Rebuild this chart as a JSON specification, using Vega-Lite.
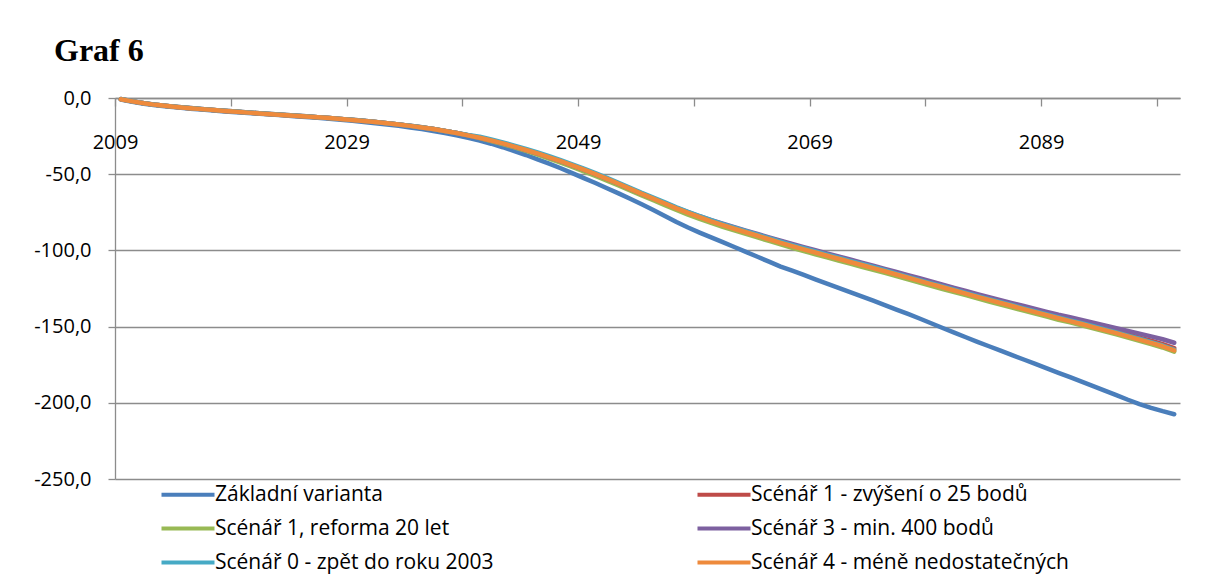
{
  "$schema": "https://vega.github.io/schema/vega-lite/v6.json",
  "autosize": {"type": "none"},
  "padding": {"left": 115, "top": 98, "right": 26, "bottom": 97},
  "width": 1065,
  "height": 381,
  "background": "white",
  "title": {
    "text": "Graf 6",
    "anchor": "start",
    "frame": "group",
    "dx": -61,
    "offset": 20,
    "font": "Liberation Serif",
    "fontSize": 32,
    "fontWeight": "bold",
    "color": "black"
  },
  "datasets": {
    "serie": [
      {"k": "z", "nazev": "Základní varianta"},
      {"k": "s1", "nazev": "Scénář 1 - zvýšení o 25 bodů"},
      {"k": "r", "nazev": "Scénář 1, reforma 20 let"},
      {"k": "s3", "nazev": "Scénář 3 - min. 400 bodů"},
      {"k": "s0", "nazev": "Scénář 0 - zpět do roku 2003"},
      {"k": "s4", "nazev": "Scénář 4 - méně nedostatečných"}
    ],
    "hodnoty": [
      {"rok": 2009, "z": -1.0, "s1": -0.7, "r": -0.8, "s3": -0.8, "s0": -0.7, "s4": -0.8},
      {"rok": 2010, "z": -2.5, "s1": -2.1, "r": -2.2, "s3": -2.2, "s0": -2.1, "s4": -2.2},
      {"rok": 2011, "z": -3.8, "s1": -3.4, "r": -3.5, "s3": -3.5, "s0": -3.4, "s4": -3.5},
      {"rok": 2012, "z": -4.8, "s1": -4.4, "r": -4.5, "s3": -4.5, "s0": -4.4, "s4": -4.5},
      {"rok": 2013, "z": -5.6, "s1": -5.2, "r": -5.3, "s3": -5.3, "s0": -5.2, "s4": -5.3},
      {"rok": 2014, "z": -6.3, "s1": -5.9, "r": -6.0, "s3": -6.0, "s0": -5.9, "s4": -6.0},
      {"rok": 2015, "z": -7.0, "s1": -6.6, "r": -6.7, "s3": -6.7, "s0": -6.6, "s4": -6.7},
      {"rok": 2016, "z": -7.6, "s1": -7.2, "r": -7.3, "s3": -7.3, "s0": -7.2, "s4": -7.3},
      {"rok": 2017, "z": -8.2, "s1": -7.8, "r": -7.9, "s3": -7.9, "s0": -7.8, "s4": -7.9},
      {"rok": 2018, "z": -8.8, "s1": -8.4, "r": -8.5, "s3": -8.5, "s0": -8.4, "s4": -8.5},
      {"rok": 2019, "z": -9.3, "s1": -8.9, "r": -9.0, "s3": -9.0, "s0": -8.9, "s4": -9.0},
      {"rok": 2020, "z": -9.9, "s1": -9.5, "r": -9.6, "s3": -9.6, "s0": -9.5, "s4": -9.6},
      {"rok": 2021, "z": -10.4, "s1": -10.0, "r": -10.1, "s3": -10.1, "s0": -10.0, "s4": -10.1},
      {"rok": 2022, "z": -10.9, "s1": -10.5, "r": -10.6, "s3": -10.6, "s0": -10.5, "s4": -10.6},
      {"rok": 2023, "z": -11.4, "s1": -11.0, "r": -11.1, "s3": -11.1, "s0": -11.0, "s4": -11.1},
      {"rok": 2024, "z": -11.9, "s1": -11.5, "r": -11.6, "s3": -11.6, "s0": -11.5, "s4": -11.6},
      {"rok": 2025, "z": -12.4, "s1": -12.0, "r": -12.1, "s3": -12.1, "s0": -12.0, "s4": -12.1},
      {"rok": 2026, "z": -13.0, "s1": -12.6, "r": -12.7, "s3": -12.7, "s0": -12.6, "s4": -12.7},
      {"rok": 2027, "z": -13.6, "s1": -13.1, "r": -13.2, "s3": -13.2, "s0": -13.1, "s4": -13.2},
      {"rok": 2028, "z": -14.3, "s1": -13.7, "r": -13.8, "s3": -13.8, "s0": -13.7, "s4": -13.8},
      {"rok": 2029, "z": -15.0, "s1": -14.3, "r": -14.4, "s3": -14.4, "s0": -14.3, "s4": -14.4},
      {"rok": 2030, "z": -15.7, "s1": -15.0, "r": -15.1, "s3": -15.1, "s0": -15.0, "s4": -15.1},
      {"rok": 2031, "z": -16.5, "s1": -15.7, "r": -15.8, "s3": -15.8, "s0": -15.7, "s4": -15.8},
      {"rok": 2032, "z": -17.4, "s1": -16.5, "r": -16.6, "s3": -16.6, "s0": -16.5, "s4": -16.6},
      {"rok": 2033, "z": -18.3, "s1": -17.3, "r": -17.4, "s3": -17.4, "s0": -17.3, "s4": -17.4},
      {"rok": 2034, "z": -19.3, "s1": -18.2, "r": -18.3, "s3": -18.3, "s0": -18.2, "s4": -18.3},
      {"rok": 2035, "z": -20.4, "s1": -19.2, "r": -19.3, "s3": -19.3, "s0": -19.2, "s4": -19.3},
      {"rok": 2036, "z": -21.6, "s1": -20.3, "r": -20.4, "s3": -20.4, "s0": -20.3, "s4": -20.4},
      {"rok": 2037, "z": -23.0, "s1": -21.6, "r": -21.7, "s3": -21.7, "s0": -21.6, "s4": -21.7},
      {"rok": 2038, "z": -24.5, "s1": -22.9, "r": -23.0, "s3": -23.0, "s0": -22.9, "s4": -23.0},
      {"rok": 2039, "z": -26.2, "s1": -24.4, "r": -24.5, "s3": -24.5, "s0": -24.3, "s4": -24.5},
      {"rok": 2040, "z": -28.0, "s1": -26.0, "r": -26.3, "s3": -26.1, "s0": -25.4, "s4": -26.1},
      {"rok": 2041, "z": -30.0, "s1": -27.8, "r": -28.2, "s3": -27.9, "s0": -27.2, "s4": -27.9},
      {"rok": 2042, "z": -32.3, "s1": -29.7, "r": -30.2, "s3": -29.8, "s0": -29.1, "s4": -29.8},
      {"rok": 2043, "z": -34.8, "s1": -31.8, "r": -32.4, "s3": -31.9, "s0": -31.2, "s4": -31.9},
      {"rok": 2044, "z": -37.4, "s1": -34.0, "r": -34.7, "s3": -34.1, "s0": -33.4, "s4": -34.1},
      {"rok": 2045, "z": -40.2, "s1": -36.3, "r": -37.1, "s3": -36.4, "s0": -35.7, "s4": -36.4},
      {"rok": 2046, "z": -43.1, "s1": -38.8, "r": -39.7, "s3": -38.9, "s0": -38.2, "s4": -38.9},
      {"rok": 2047, "z": -46.1, "s1": -41.4, "r": -42.4, "s3": -41.5, "s0": -40.8, "s4": -41.5},
      {"rok": 2048, "z": -49.3, "s1": -44.1, "r": -45.2, "s3": -44.2, "s0": -43.5, "s4": -44.2},
      {"rok": 2049, "z": -52.6, "s1": -46.9, "r": -48.1, "s3": -47.0, "s0": -46.3, "s4": -47.0},
      {"rok": 2050, "z": -55.8, "s1": -49.9, "r": -51.1, "s3": -50.0, "s0": -49.3, "s4": -50.0},
      {"rok": 2051, "z": -59.2, "s1": -53.0, "r": -54.2, "s3": -53.1, "s0": -52.4, "s4": -53.1},
      {"rok": 2052, "z": -62.6, "s1": -56.2, "r": -57.4, "s3": -56.3, "s0": -55.6, "s4": -56.3},
      {"rok": 2053, "z": -66.1, "s1": -59.5, "r": -60.7, "s3": -59.6, "s0": -58.9, "s4": -59.6},
      {"rok": 2054, "z": -69.7, "s1": -62.8, "r": -64.0, "s3": -62.9, "s0": -62.2, "s4": -62.9},
      {"rok": 2055, "z": -73.5, "s1": -65.9, "r": -67.1, "s3": -65.8, "s0": -65.3, "s4": -66.0},
      {"rok": 2056, "z": -77.4, "s1": -69.1, "r": -70.3, "s3": -68.9, "s0": -68.5, "s4": -69.2},
      {"rok": 2057, "z": -81.4, "s1": -72.3, "r": -73.5, "s3": -72.0, "s0": -71.7, "s4": -72.4},
      {"rok": 2058, "z": -85.0, "s1": -75.3, "r": -76.5, "s3": -74.9, "s0": -74.7, "s4": -75.4},
      {"rok": 2059, "z": -88.3, "s1": -78.1, "r": -79.3, "s3": -77.6, "s0": -77.5, "s4": -78.2},
      {"rok": 2060, "z": -91.5, "s1": -80.8, "r": -82.0, "s3": -80.1, "s0": -80.2, "s4": -80.9},
      {"rok": 2061, "z": -94.6, "s1": -83.0, "r": -84.5, "s3": -82.5, "s0": -82.7, "s4": -83.4},
      {"rok": 2062, "z": -97.8, "s1": -85.4, "r": -86.9, "s3": -84.8, "s0": -85.1, "s4": -85.8},
      {"rok": 2063, "z": -101.0, "s1": -87.7, "r": -89.2, "s3": -87.0, "s0": -87.4, "s4": -88.1},
      {"rok": 2064, "z": -104.2, "s1": -90.0, "r": -91.5, "s3": -89.2, "s0": -89.7, "s4": -90.4},
      {"rok": 2065, "z": -107.4, "s1": -92.3, "r": -93.8, "s3": -91.4, "s0": -92.0, "s4": -92.7},
      {"rok": 2066, "z": -110.6, "s1": -94.6, "r": -96.1, "s3": -93.6, "s0": -94.3, "s4": -95.0},
      {"rok": 2067, "z": -113.3, "s1": -96.8, "r": -98.3, "s3": -95.8, "s0": -96.5, "s4": -97.2},
      {"rok": 2068, "z": -116.1, "s1": -98.9, "r": -100.4, "s3": -97.9, "s0": -98.6, "s4": -99.3},
      {"rok": 2069, "z": -119.0, "s1": -101.0, "r": -102.5, "s3": -99.9, "s0": -100.7, "s4": -101.4},
      {"rok": 2070, "z": -121.8, "s1": -103.1, "r": -104.6, "s3": -102.0, "s0": -102.8, "s4": -103.5},
      {"rok": 2071, "z": -124.6, "s1": -105.1, "r": -106.6, "s3": -104.0, "s0": -104.8, "s4": -105.5},
      {"rok": 2072, "z": -127.4, "s1": -107.2, "r": -108.7, "s3": -106.0, "s0": -106.9, "s4": -107.6},
      {"rok": 2073, "z": -130.2, "s1": -109.2, "r": -110.7, "s3": -108.0, "s0": -108.9, "s4": -109.6},
      {"rok": 2074, "z": -133.0, "s1": -111.2, "r": -112.7, "s3": -110.0, "s0": -110.9, "s4": -111.6},
      {"rok": 2075, "z": -135.9, "s1": -113.3, "r": -114.8, "s3": -112.1, "s0": -113.0, "s4": -113.7},
      {"rok": 2076, "z": -138.8, "s1": -115.4, "r": -116.9, "s3": -114.2, "s0": -115.3, "s4": -115.8},
      {"rok": 2077, "z": -141.7, "s1": -117.5, "r": -119.0, "s3": -116.3, "s0": -117.4, "s4": -117.9},
      {"rok": 2078, "z": -144.7, "s1": -119.6, "r": -121.1, "s3": -118.3, "s0": -119.5, "s4": -120.0},
      {"rok": 2079, "z": -147.8, "s1": -121.7, "r": -123.2, "s3": -120.4, "s0": -121.6, "s4": -122.1},
      {"rok": 2080, "z": -150.9, "s1": -123.8, "r": -125.3, "s3": -122.5, "s0": -123.7, "s4": -124.2},
      {"rok": 2081, "z": -154.0, "s1": -125.7, "r": -127.3, "s3": -124.6, "s0": -125.8, "s4": -126.3},
      {"rok": 2082, "z": -157.0, "s1": -127.8, "r": -129.4, "s3": -126.6, "s0": -127.9, "s4": -128.4},
      {"rok": 2083, "z": -160.0, "s1": -129.9, "r": -131.5, "s3": -128.7, "s0": -130.0, "s4": -130.5},
      {"rok": 2084, "z": -162.9, "s1": -131.9, "r": -133.5, "s3": -130.7, "s0": -132.0, "s4": -132.5},
      {"rok": 2085, "z": -165.8, "s1": -133.9, "r": -135.5, "s3": -132.7, "s0": -134.0, "s4": -134.5},
      {"rok": 2086, "z": -168.7, "s1": -135.9, "r": -137.5, "s3": -134.6, "s0": -136.0, "s4": -136.5},
      {"rok": 2087, "z": -171.6, "s1": -137.9, "r": -139.5, "s3": -136.5, "s0": -138.0, "s4": -138.5},
      {"rok": 2088, "z": -174.5, "s1": -139.9, "r": -141.5, "s3": -138.4, "s0": -140.0, "s4": -140.5},
      {"rok": 2089, "z": -177.4, "s1": -141.9, "r": -143.5, "s3": -140.3, "s0": -142.0, "s4": -142.5},
      {"rok": 2090, "z": -180.3, "s1": -143.9, "r": -145.5, "s3": -142.2, "s0": -144.0, "s4": -144.5},
      {"rok": 2091, "z": -183.2, "s1": -145.7, "r": -147.2, "s3": -143.9, "s0": -145.9, "s4": -146.4},
      {"rok": 2092, "z": -186.1, "s1": -147.5, "r": -149.1, "s3": -145.6, "s0": -147.8, "s4": -148.3},
      {"rok": 2093, "z": -189.0, "s1": -149.4, "r": -151.1, "s3": -147.4, "s0": -149.8, "s4": -150.3},
      {"rok": 2094, "z": -192.0, "s1": -151.3, "r": -153.1, "s3": -149.2, "s0": -151.8, "s4": -152.3},
      {"rok": 2095, "z": -195.0, "s1": -153.2, "r": -155.1, "s3": -151.0, "s0": -153.8, "s4": -154.3},
      {"rok": 2096, "z": -198.0, "s1": -155.2, "r": -157.2, "s3": -152.8, "s0": -155.9, "s4": -156.4},
      {"rok": 2097, "z": -200.8, "s1": -157.2, "r": -159.3, "s3": -154.6, "s0": -158.0, "s4": -158.5},
      {"rok": 2098, "z": -203.3, "s1": -159.3, "r": -161.5, "s3": -156.4, "s0": -160.2, "s4": -160.7},
      {"rok": 2099, "z": -205.5, "s1": -161.5, "r": -163.7, "s3": -158.3, "s0": -162.4, "s4": -162.9},
      {"rok": 2100, "z": -207.5, "s1": -164.1, "r": -166.4, "s3": -160.6, "s0": -165.1, "s4": -165.6}
    ]
  },
  "data": {"name": "hodnoty"},
  "transform": [
    {"fold": ["z", "s1", "r", "s3", "s0", "s4"], "as": ["k", "hodnota"]},
    {"lookup": "k", "from": {"data": {"name": "serie"}, "key": "k", "fields": ["nazev"]}}
  ],
  "mark": {"type": "line", "strokeWidth": 4.5, "strokeCap": "round", "strokeJoin": "round"},
  "encoding": {
    "x": {
      "field": "rok",
      "type": "quantitative",
      "scale": {"domain": [2008.5, 2100.5], "nice": false, "zero": false},
      "axis": {
        "orient": "bottom",
        "offset": -381,
        "title": null,
        "grid": false,
        "values": [2008.5, 2018.5, 2028.5, 2038.5, 2048.5, 2058.5, 2068.5, 2078.5, 2088.5, 2098.5],
        "labelExpr": "(datum.value - 2008.5) % 20 == 0 ? format(datum.value + 0.5, 'd') : ''",
        "labelDx": 6,
        "labelPadding": 26,
        "tickSize": 8,
        "labelFlush": false,
        "labelOverlap": false
      }
    },
    "y": {
      "field": "hodnota",
      "type": "quantitative",
      "scale": {"domain": [-250, 0], "nice": false, "zero": false},
      "axis": {
        "title": null,
        "values": [0, -50, -100, -150, -200, -250],
        "format": ".1f",
        "tickSize": 7,
        "labelPadding": 17,
        "grid": true
      }
    },
    "color": {
      "field": "nazev",
      "type": "nominal",
      "scale": {
        "domain": [
          "Základní varianta",
          "Scénář 1 - zvýšení o 25 bodů",
          "Scénář 1, reforma 20 let",
          "Scénář 3 - min. 400 bodů",
          "Scénář 0 - zpět do roku 2003",
          "Scénář 4 - méně nedostatečných"
        ],
        "range": ["#4A7EBB", "#BE4B48", "#98B954", "#7D60A0", "#46AAC5", "#EE8A3C"]
      },
      "legend": {
        "title": null,
        "orient": "none",
        "direction": "horizontal",
        "legendX": 41,
        "legendY": 386,
        "columns": 2,
        "columnPadding": 195,
        "rowPadding": 12,
        "padding": 0,
        "symbolType": "M-1,0H9.6",
        "symbolSize": 100,
        "symbolStrokeWidth": 4,
        "labelOffset": 38,
        "labelLimit": 400
      }
    }
  },
  "config": {
    "locale": {
      "number": {"decimal": ",", "thousands": " ", "grouping": [3], "currency": ["", " Kč"], "minus": "-"}
    },
    "view": {"stroke": null},
    "axis": {
      "labelFont": "Open Sans",
      "labelFontSize": 20,
      "labelColor": "#000000",
      "domainColor": "#8C8C8C",
      "domainWidth": 1.3,
      "tickColor": "#8C8C8C",
      "tickWidth": 1.3,
      "gridColor": "#8C8C8C",
      "gridWidth": 1.3
    },
    "legend": {
      "labelFont": "Open Sans",
      "labelFontSize": 21,
      "labelColor": "#000000"
    }
  }
}
